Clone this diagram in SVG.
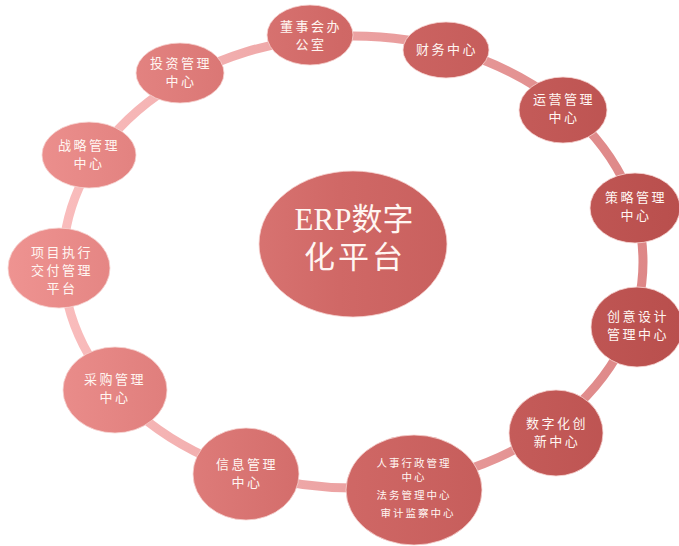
<svg xmlns="http://www.w3.org/2000/svg" width="679" height="546" viewBox="0 0 679 546">
  <defs>
    <linearGradient id="nodeFill" gradientUnits="userSpaceOnUse" x1="0" y1="0" x2="679" y2="0">
      <stop offset="0" stop-color="#ef9492"/>
      <stop offset="0.5" stop-color="#d06866"/>
      <stop offset="1" stop-color="#b94f4d"/>
    </linearGradient>
    <linearGradient id="ringStroke" gradientUnits="userSpaceOnUse" x1="0" y1="0" x2="679" y2="0">
      <stop offset="0" stop-color="#fcc2c2"/>
      <stop offset="1" stop-color="#dc8484"/>
    </linearGradient>
  </defs>
  <style>
    .node { fill: url(#nodeFill); stroke: #f6d4d2; stroke-width: 0.8; }
    .lbl { fill: #fff6f2; font-family: "Noto Sans CJK SC", sans-serif; font-size: 13px; letter-spacing: 2.5px; text-anchor: middle; }
    .sm { font-size: 10.5px; letter-spacing: 2px; }
    .big { fill: #fff6f2; font-family: "Liberation Serif", "Noto Sans CJK SC", serif; font-size: 31px; text-anchor: middle; }
    .ring { fill: none; stroke: url(#ringStroke); stroke-width: 9; }
  </style>
  <rect width="679" height="546" fill="#ffffff"/>
  <g id="connectors">
    <ellipse class="ring" cx="353" cy="262" rx="290" ry="226"/>
  </g>
  <g id="center">
    <ellipse class="node" cx="353" cy="244" rx="94" ry="73"/>
    <text class="big" x="354" y="230">ERP数字</text>
    <text class="big" x="355" y="268" letter-spacing="3">化平台</text>
  </g>
  <g id="n-dongshi">
    <ellipse class="node" cx="310" cy="35" rx="43" ry="30"/>
    <text class="lbl" x="311" y="31">董事会办</text>
    <text class="lbl" x="311" y="49">公室</text>
  </g>
  <g id="n-caiwu">
    <ellipse class="node" cx="446" cy="50" rx="43" ry="28"/>
    <text class="lbl" x="447" y="54">财务中心</text>
  </g>
  <g id="n-touzi">
    <ellipse class="node" cx="180" cy="73" rx="44" ry="30"/>
    <text class="lbl" x="181" y="68">投资管理</text>
    <text class="lbl" x="181" y="86">中心</text>
  </g>
  <g id="n-yunying">
    <ellipse class="node" cx="563" cy="110" rx="44" ry="33"/>
    <text class="lbl" x="564" y="104">运营管理</text>
    <text class="lbl" x="564" y="122">中心</text>
  </g>
  <g id="n-celue">
    <ellipse class="node" cx="635" cy="208" rx="45" ry="35"/>
    <text class="lbl" x="636" y="202">策略管理</text>
    <text class="lbl" x="636" y="220">中心</text>
  </g>
  <g id="n-chuangyi">
    <ellipse class="node" cx="637" cy="327" rx="46" ry="40"/>
    <text class="lbl" x="638" y="321">创意设计</text>
    <text class="lbl" x="638" y="339">管理中心</text>
  </g>
  <g id="n-shuzihua">
    <ellipse class="node" cx="556" cy="433" rx="47" ry="43"/>
    <text class="lbl" x="557" y="428">数字化创</text>
    <text class="lbl" x="557" y="446">新中心</text>
  </g>
  <g id="n-renshi">
    <ellipse class="node" cx="414" cy="490" rx="68" ry="55"/>
    <text class="lbl sm" x="414" y="467">人事行政管理</text>
    <text class="lbl sm" x="414" y="481">中心</text>
    <text class="lbl sm" x="414" y="499">法务管理中心</text>
    <text class="lbl sm" x="418" y="517">审计监察中心</text>
  </g>
  <g id="n-xinxi">
    <ellipse class="node" cx="246" cy="474" rx="53" ry="46"/>
    <text class="lbl" x="247" y="469">信息管理</text>
    <text class="lbl" x="247" y="487">中心</text>
  </g>
  <g id="n-caigou">
    <ellipse class="node" cx="115" cy="390" rx="52" ry="43"/>
    <text class="lbl" x="115" y="384">采购管理</text>
    <text class="lbl" x="115" y="402">中心</text>
  </g>
  <g id="n-xiangmu">
    <ellipse class="node" cx="59" cy="268" rx="51" ry="40"/>
    <text class="lbl" x="62" y="257">项目执行</text>
    <text class="lbl" x="62" y="275">交付管理</text>
    <text class="lbl" x="62" y="293">平台</text>
  </g>
  <g id="n-zhanlue">
    <ellipse class="node" cx="89" cy="155" rx="47" ry="33"/>
    <text class="lbl" x="89" y="150">战略管理</text>
    <text class="lbl" x="89" y="168">中心</text>
  </g>
</svg>
